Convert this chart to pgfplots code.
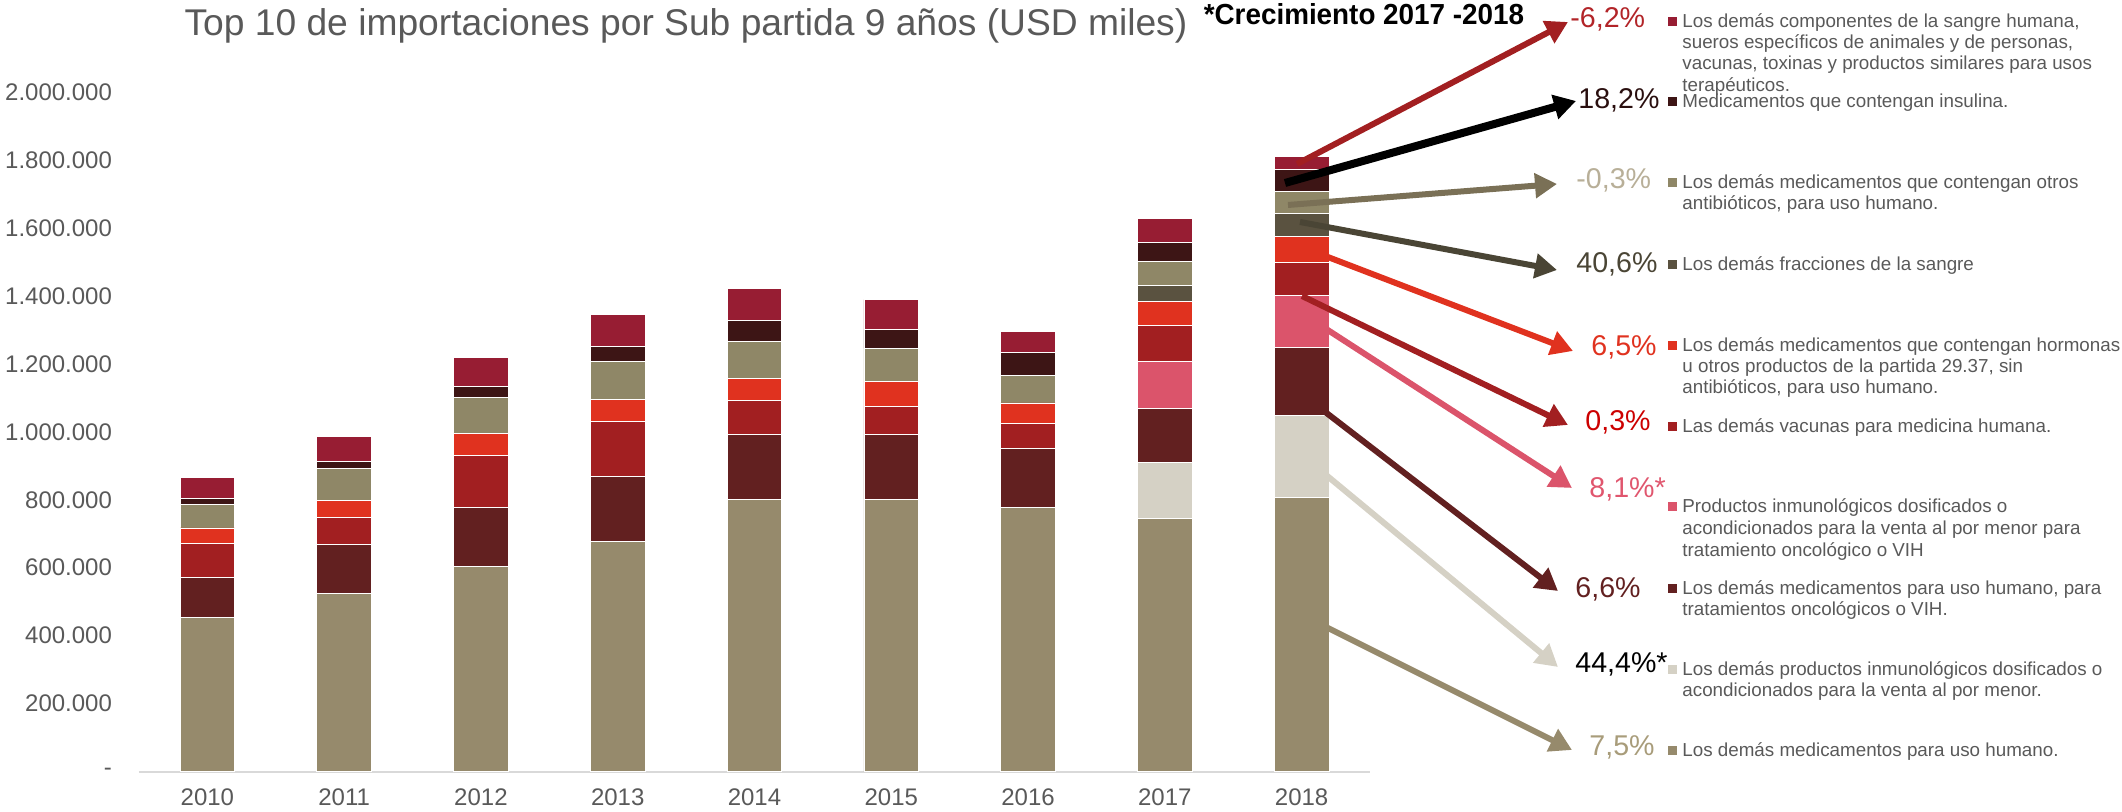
\documentclass[border=0pt]{standalone}
\usepackage{fontspec}
\setmainfont{Liberation Sans}
\usepackage{pgfplots}
\usepackage{pgfplotstable}
\pgfplotsset{compat=1.18}
\usetikzlibrary{arrows.meta}

\definecolor{cBase}{HTML}{968A6C}
\definecolor{cInmu}{HTML}{D5D1C5}
\definecolor{cOnco}{HTML}{622020}
\definecolor{cPink}{HTML}{DB546B}
\definecolor{cVac}{HTML}{A21F21}
\definecolor{cHorm}{HTML}{E0321F}
\definecolor{cFrac}{HTML}{5A5240}
\definecolor{cAntib}{HTML}{8F8767}
\definecolor{cInsu}{HTML}{3D1515}
\definecolor{cSang}{HTML}{971D33}
\definecolor{txt}{HTML}{595959}
\definecolor{aAntib}{HTML}{7A7056}
\definecolor{aFrac}{HTML}{4A4535}
\definecolor{pSang}{HTML}{B22428}
\definecolor{pInsu}{HTML}{2A0F0F}
\definecolor{pAntib}{HTML}{B8AF98}
\definecolor{pVac}{HTML}{CC0000}
\definecolor{pPink}{HTML}{E0566E}
\definecolor{pBase}{HTML}{A89C7A}

% valores en USD miles, 2010-2018 (x = 0..8)
\pgfplotstableread{
x base inmu onco pink vac horm frac antib insu sang
0 453000 0 118000 0 100000 46000 0 69000 17000 62000
1 525000 0 144000 0 78000 52000 0 92000 22000 74000
2 604000 0 173000 0 154000 64000 0 105000 34000 86000
3 677000 0 192000 0 162000 65000 0 110000 46000 94000
4 800000 0 192000 0 100000 66000 0 107000 63000 93000
5 801000 0 192000 0 82000 73000 0 98000 55000 88000
6 778000 0 173000 0 74000 60000 0 82000 67000 60000
7 744000 166000 158000 140000 106000 70000 47000 71000 56000 69000
8 807000 241000 201000 151000 98000 78000 66000 66000 63000 39000
}\datos

\begin{document}
\begin{tikzpicture}
\path[use as bounding box] (0,0) rectangle (1061pt,406pt);

\begin{axis}[
    at={(69.5pt,20.2pt)}, anchor=south west,
    width=615.5pt, height=339.8pt, scale only axis,
    ybar stacked, bar width=0.4,
    xmin=-0.5, xmax=8.5, ymin=0, ymax=2000000,
    enlargelimits=false,
    scaled y ticks=false,
    axis x line*=bottom, axis y line*=left,
    y axis line style={draw=none},
    x axis line style={draw=black!15, line width=1pt},
    xtick={0,...,8},
    xticklabels={2010,2011,2012,2013,2014,2015,2016,2017,2018},
    ytick={0,200000,400000,600000,800000,1000000,1200000,1400000,1600000,1800000,2000000},
    yticklabels={-,200.000,400.000,600.000,800.000,1.000.000,1.200.000,1.400.000,1.600.000,1.800.000,2.000.000},
    major tick style={draw=none},
    ticklabel style={font=\fontsize{12}{14}\selectfont, text=txt},
    yticklabel style={xshift=-10pt},
    xticklabel style={yshift=-5pt},
    every axis plot/.append style={draw=white, line width=0.4pt},
]
\addplot[fill=cBase] table[x=x,y=base] {\datos};
\addplot[fill=cInmu] table[x=x,y=inmu] {\datos};
\addplot[fill=cOnco] table[x=x,y=onco] {\datos};
\addplot[fill=cPink] table[x=x,y=pink] {\datos};
\addplot[fill=cVac] table[x=x,y=vac] {\datos};
\addplot[fill=cHorm] table[x=x,y=horm] {\datos};
\addplot[fill=cFrac] table[x=x,y=frac] {\datos};
\addplot[fill=cAntib] table[x=x,y=antib] {\datos};
\addplot[fill=cInsu] table[x=x,y=insu] {\datos};
\addplot[fill=cSang] table[x=x,y=sang] {\datos};
\end{axis}

\begin{scope}[x=0.5pt, y=-0.5pt, shift={(0,406pt)}]
% titulo
\node[anchor=mid, text=txt, font=\fontsize{18.6}{22}\selectfont] at (686,30)
  {Top 10 de importaciones por Sub partida 9 años (USD miles)};
\node[anchor=mid west, xscale=0.96, font=\fontsize{14.5}{17}\bfseries\selectfont] at (1197,19)
  {*Crecimiento 2017 -2018};

% flechas
\tikzset{fl/.style={line width=3pt, -{Triangle[length=11pt,width=12pt]}}}
\draw[fl, color=cVac] (1297,164) -- (1568,22);
\draw[fl, line width=4pt, color=black] (1285,183) -- (1576,101);
\draw[fl, color=aAntib] (1288,205) -- (1557,184);
\draw[fl, color=aFrac] (1300,222) -- (1557,270);
\draw[fl, color=cHorm] (1320,254) -- (1573,351);
\draw[fl, color=cVac] (1302,296) -- (1568,425);
\draw[fl, color=cPink] (1320,325) -- (1572,488);
\draw[fl, color=cOnco] (1320,408) -- (1558,591);
\draw[fl, color=cInmu] (1320,470) -- (1558,667);
\draw[fl, color=cBase] (1320,624) -- (1572,750);

% porcentajes
\tikzset{pc/.style={anchor=mid west, inner sep=0pt, font=\fontsize{14.3}{17}\selectfont}}
\node[pc, text=pSang] at (1570,22) {-6,2\%};
\node[pc, text=pInsu] at (1578,103) {18,2\%};
\node[pc, text=pAntib] at (1576,183) {-0,3\%};
\node[pc, text=aFrac] at (1576,267) {40,6\%};
\node[pc, text=cHorm] at (1591,350) {6,5\%};
\node[pc, text=pVac] at (1585,425) {0,3\%};
\node[pc, text=pPink] at (1589,492) {8,1\%*};
\node[pc, text=cOnco] at (1575,592) {6,6\%};
\node[pc, text=black] at (1575,667) {44,4\%*};
\node[pc, text=pBase] at (1589,750) {7,5\%};

% leyenda
\tikzset{lg/.style={anchor=mid west, inner sep=0pt, text=txt, font=\fontsize{9.4}{11}\selectfont}}
\newcommand{\sq}[2]{\fill[#1] (1668,#2-4.5) rectangle (1677,#2+4.5);}
\sq{cSang}{22}
\node[lg] at (1682,22) {Los demás componentes de la sangre humana,};
\node[lg] at (1682,43) {sueros específicos de animales y de personas,};
\node[lg] at (1682,64) {vacunas, toxinas y productos similares para usos};
\node[lg] at (1682,86) {terapéuticos.};
\sq{cInsu}{102}
\node[lg] at (1682,102) {Medicamentos que contengan insulina.};
\sq{cAntib}{183}
\node[lg] at (1682,183) {Los demás medicamentos que contengan otros};
\node[lg] at (1682,204) {antibióticos, para uso humano.};
\sq{cFrac}{265}
\node[lg] at (1682,265) {Los demás fracciones de la sangre};
\sq{cHorm}{346}
\node[lg] at (1682,346) {Los demás medicamentos que contengan hormonas};
\node[lg] at (1682,367) {u otros productos de la partida 29.37, sin};
\node[lg] at (1682,388) {antibióticos, para uso humano.};
\sq{cVac}{427}
\node[lg] at (1682,427) {Las demás vacunas para medicina humana.};
\sq{cPink}{507}
\node[lg] at (1682,507) {Productos inmunológicos dosificados o};
\node[lg] at (1682,529) {acondicionados para la venta al por menor para};
\node[lg] at (1682,551) {tratamiento oncológico o VIH};
\sq{cOnco}{589}
\node[lg] at (1682,589) {Los demás medicamentos para uso humano, para};
\node[lg] at (1682,610) {tratamientos oncológicos o VIH.};
\sq{cInmu}{670}
\node[lg] at (1682,670) {Los demás productos inmunológicos dosificados o};
\node[lg] at (1682,691) {acondicionados para la venta al por menor.};
\sq{cBase}{751}
\node[lg] at (1682,751) {Los demás medicamentos para uso humano.};
\end{scope}
\end{tikzpicture}
\end{document}
